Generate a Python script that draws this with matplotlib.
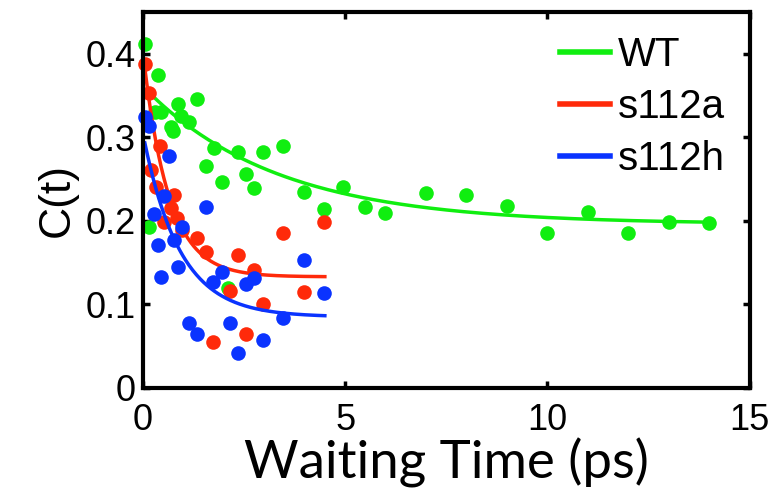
import numpy as np
import matplotlib
matplotlib.use("Agg")
import matplotlib.pyplot as plt

# measured points (time in ps, C(t))
wt_t = [0.05, 0.15, 0.3, 0.37, 0.45, 0.7, 0.75, 0.86, 0.95, 1.13, 1.35, 1.55, 1.75, 1.96, 2.1,
        2.36, 2.56, 2.76, 2.97, 3.46, 3.98, 4.47, 4.96, 5.48, 5.98, 7.0, 8.0, 9.0, 10.0, 11.0,
        12.0, 13.0, 14.0]
wt_c = [0.412, 0.192, 0.330, 0.375, 0.330, 0.312, 0.308, 0.340, 0.325, 0.318, 0.346, 0.266,
        0.287, 0.247, 0.120, 0.282, 0.256, 0.239, 0.282, 0.290, 0.235, 0.214, 0.240, 0.216,
        0.209, 0.233, 0.231, 0.218, 0.185, 0.210, 0.185, 0.199, 0.197]

a_t = [0.05, 0.15, 0.21, 0.33, 0.43, 0.52, 0.7, 0.76, 0.85, 0.98, 1.35, 1.56, 1.74, 2.15,
       2.36, 2.56, 2.76, 2.97, 3.46, 3.98, 4.47]
a_c = [0.388, 0.353, 0.261, 0.241, 0.289, 0.198, 0.215, 0.231, 0.203, 0.189, 0.180, 0.163,
       0.055, 0.116, 0.159, 0.065, 0.141, 0.101, 0.186, 0.115, 0.198]

h_t = [0.05, 0.15, 0.27, 0.37, 0.45, 0.52, 0.64, 0.76, 0.86, 0.98, 1.13, 1.35, 1.56, 1.74,
       1.96, 2.15, 2.36, 2.56, 2.76, 2.97, 3.46, 3.98, 4.47]
h_c = [0.324, 0.313, 0.208, 0.171, 0.133, 0.230, 0.277, 0.177, 0.145, 0.193, 0.078, 0.064,
       0.217, 0.127, 0.139, 0.078, 0.042, 0.125, 0.132, 0.057, 0.084, 0.153, 0.114]

# exponential fits: offset, amplitude, tau, t range
wt_fit = [0.196, 0.165, 3.3, 0.1, 14.0]
a_fit = [0.133, 0.27, 0.63, 0.05, 4.5]
h_fit = [0.085, 0.22, 0.9, 0.05, 4.5]

green = '#10ee10'
red = '#ff2a0a'
blue = '#0a33ff'

plt.rcParams['font.family'] = ['Liberation Sans', 'DejaVu Sans']

fig = plt.figure(figsize=(7.72, 4.93), dpi=100)
ax = fig.add_axes([0.185, 0.213, 0.786, 0.763])

def fitline(p):
    t = np.linspace(p[3], p[4], 200)
    return t, p[0] + p[1] * np.exp(-t / p[2])

series = [(wt_t, wt_c, wt_fit, green, 'WT'),
          (a_t, a_c, a_fit, red, 's112a'),
          (h_t, h_c, h_fit, blue, 's112h')]
for t, c, p, col, lab in series:
    ax.plot(t, c, 'o', color=col, ms=10.5, mec='none', clip_on=False)
    ft, fc = fitline(p)
    ax.plot(ft, fc, '-', color=col, lw=2.5, label=lab)

ax.set_xlim(0, 15)
ax.set_ylim(0, 0.45)
ax.set_xticks([0, 5, 10, 15])
ax.set_yticks([0, 0.1, 0.2, 0.3, 0.4])
ax.set_xticklabels(['0', '5', '10', '15'])
ax.set_yticklabels(['0', '0.1', '0.2', '0.3', '0.4'])
ax.tick_params(direction='in', length=5, width=2.5, labelsize=26,
               top=True, right=True)
ax.tick_params(axis='x', pad=11)
ax.tick_params(axis='y', pad=5)
for s in ax.spines.values():
    s.set_linewidth(3)

ax.set_ylabel('C(t)', fontsize=32, labelpad=6)
ax.set_xlabel('Waiting Time (ps)', fontsize=38, family=['Lato', 'DejaVu Sans'], labelpad=0)

leg = ax.legend(loc='upper right', frameon=False, fontsize=29, handlelength=1.25,
                handletextpad=0.2, labelspacing=0.35, borderaxespad=0.2)
for l in leg.get_lines():
    l.set_linewidth(4)

fig.savefig('out.png', dpi=100)
